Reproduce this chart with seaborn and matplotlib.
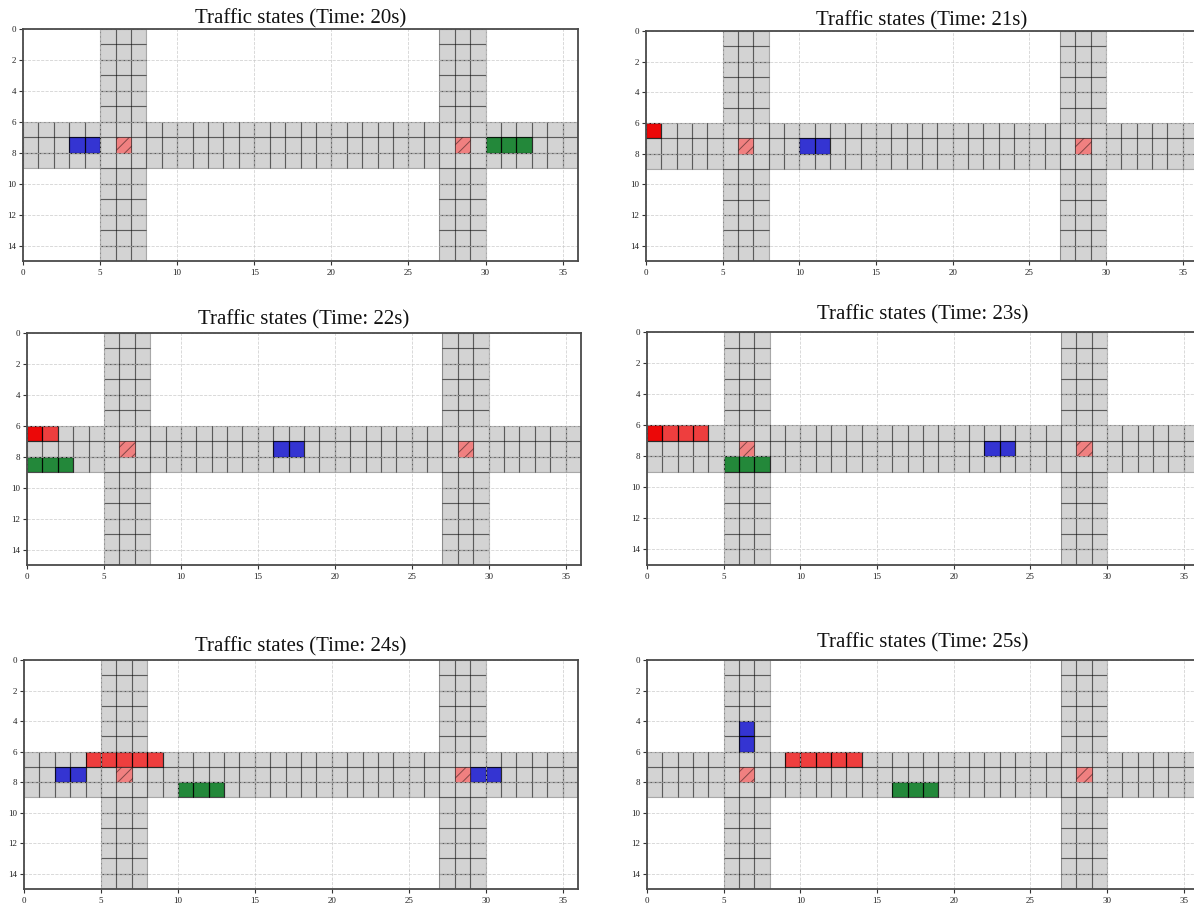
import numpy as np
import matplotlib
matplotlib.use("Agg")
import matplotlib.pyplot as plt
from matplotlib.colors import ListedColormap
from matplotlib.patches import Rectangle
from matplotlib.collections import PatchCollection
import seaborn as sns

# ---------------- data ----------------
times = [20, 21, 22, 23, 24, 25]
n_cols, n_rows = 36, 15
road_rows = [6, 7, 8]
road_cols_a = [5, 6, 7]
road_cols_b = [27, 28, 29]
signal_cells = [(6, 7), (28, 7)]

blue_cells = [
    [(3, 7), (4, 7)],
    [(10, 7), (11, 7)],
    [(16, 7), (17, 7)],
    [(22, 7), (23, 7)],
    [(2, 7), (3, 7), (29, 7), (30, 7)],
    [(6, 4), (6, 5)],
]
green_cells = [
    [(30, 7), (31, 7), (32, 7)],
    [],
    [(0, 8), (1, 8), (2, 8)],
    [(5, 8), (6, 8), (7, 8)],
    [(10, 8), (11, 8), (12, 8)],
    [(16, 8), (17, 8), (18, 8)],
]
red_cells = [
    [],
    [],
    [(1, 6)],
    [(1, 6), (2, 6), (3, 6)],
    [(4, 6), (5, 6), (6, 6), (7, 6), (8, 6)],
    [(9, 6), (10, 6), (11, 6), (12, 6), (13, 6)],
]
red_head_cells = [[], [(0, 6)], [(0, 6)], [(0, 6)], [], []]

x_ticks = [0, 5, 10, 15, 20, 25, 30, 35]
y_ticks = [0, 2, 4, 6, 8, 10, 12, 14]

# ---------------- style ----------------
sns.set_theme(style="white")
plt.rcParams["font.family"] = ["Liberation Serif", "DejaVu Serif"]
plt.rcParams["axes.axisbelow"] = "line"
plt.rcParams["hatch.linewidth"] = 0.7

vehicle_colors = ["#3434d2", "#23883a", "#ee3e3e", "#ec0808"]

# panel positions in pixels: left, top, right, bottom ; title pad (pt)
W, H = 1194, 904
panels = [
    (23, 30, 578, 262, 4.5),
    (646, 32, 1198, 262, 4.5),
    (27, 334, 581, 566, 6.5),
    (647, 333, 1199, 566, 9.5),
    (24, 661, 578, 890, 6.5),
    (647, 661, 1199, 890, 9.5),
]

fig = plt.figure(figsize=(W / 100, H / 100), dpi=100)

road = np.full((n_rows, n_cols), np.nan)
road[road_rows, :] = 1
road[:, road_cols_a] = 1
road[:, road_cols_b] = 1
road_r, road_c = np.where(~np.isnan(road))

for i, t in enumerate(times):
    l, tp, r, b, pad = panels[i]
    ax = fig.add_axes([l / W, 1 - b / H, (r - l) / W, (b - tp) / H])

    # road layer
    sns.heatmap(road, mask=np.isnan(road), cmap=ListedColormap(["#d3d3d3"]),
                cbar=False, linewidths=0, ax=ax)
    ax.add_collection(PatchCollection(
        [Rectangle((c, rr), 1, 1) for rr, c in zip(road_r, road_c)],
        facecolor="none", edgecolor=(0, 0, 0, 0.34), linewidth=0.8, zorder=1.1))

    # vehicle layer
    veh = np.full((n_rows, n_cols), np.nan)
    for code, cells in enumerate([blue_cells[i], green_cells[i],
                                  red_cells[i], red_head_cells[i]]):
        for (cx, cy) in cells:
            veh[cy, cx] = code
    if not np.all(np.isnan(veh)):
        sns.heatmap(veh, mask=np.isnan(veh), cmap=ListedColormap(vehicle_colors),
                    vmin=-0.5, vmax=3.5, cbar=False, linewidths=0, ax=ax)
        vr, vc = np.where(~np.isnan(veh))
        ax.add_collection(PatchCollection(
            [Rectangle((c, rr), 1, 1) for rr, c in zip(vr, vc)],
            facecolor="none", edgecolor=(0, 0, 0, 0.55), linewidth=0.8,
            zorder=1.2))

    # signal cells (hatched)
    for (sx, sy) in signal_cells:
        if not np.isnan(veh[sy, sx]):
            continue
        ax.add_patch(Rectangle((sx, sy), 1, 1, facecolor="#f08080",
                               edgecolor=(0, 0, 0, 0.45), hatch="///",
                               linewidth=0.6, zorder=1.2))

    ax.set_xlim(0, n_cols)
    ax.set_ylim(n_rows, 0)
    ax.set_xticks(x_ticks)
    ax.set_xticklabels([str(v) for v in x_ticks], rotation=0)
    ax.set_yticks(y_ticks)
    ax.set_yticklabels([str(v) for v in y_ticks], rotation=0)
    ax.tick_params(axis="both", labelsize=6.5, length=3, width=0.8,
                   direction="out", color="#333333", pad=2,
                   bottom=True, left=True, labelcolor="#222222")
    for s in ax.spines.values():
        s.set_visible(True)
        s.set_color("#4a4a4a")
        s.set_linewidth(1.3)
    ax.grid(True, linestyle="--", color="#c8c8c8", linewidth=0.6, alpha=0.8)
    ax.set_xlabel("")
    ax.set_ylabel("")
    ax.set_title(f"Traffic states (Time: {t}s)", fontsize=15, pad=pad,
                 color="#111111")

fig.savefig("out.png", dpi=100)
